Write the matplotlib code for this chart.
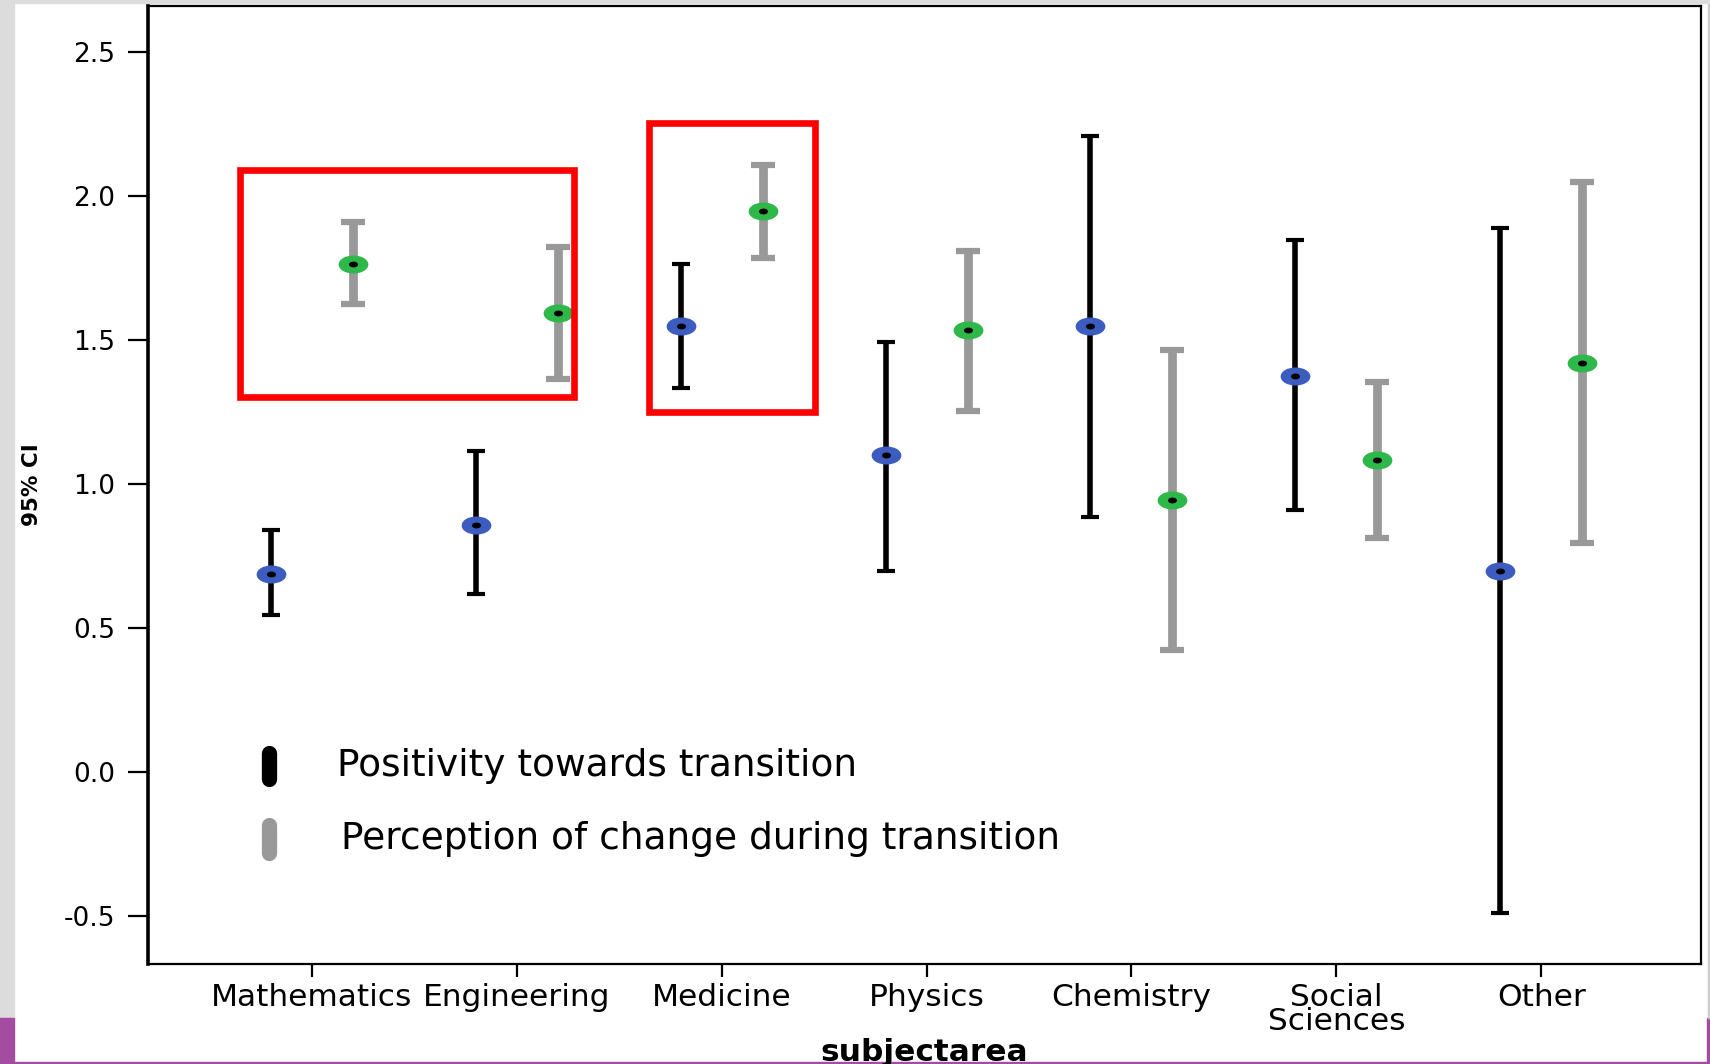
import matplotlib.pyplot as plt
from matplotlib.markers import MarkerStyle
from matplotlib.patches import Rectangle
from matplotlib.transforms import Affine2D

# subject areas and 95% CI values
subjects = ['Mathematics', 'Engineering', 'Medicine', 'Physics', 'Chemistry', 'Social\nSciences', 'Other']

pos_mean = [0.69, 0.86, 1.55, 1.10, 1.55, 1.375, 0.70]
pos_low = [0.545, 0.62, 1.335, 0.70, 0.885, 0.91, -0.49]
pos_high = [0.84, 1.115, 1.765, 1.495, 2.21, 1.85, 1.89]

chg_mean = [1.765, 1.595, 1.95, 1.535, 0.945, 1.085, 1.42]
chg_low = [1.625, 1.365, 1.785, 1.255, 0.425, 0.815, 0.795]
chg_high = [1.91, 1.825, 2.11, 1.81, 1.465, 1.355, 2.05]

series_labels = ['Positivity towards transition', 'Perception of change during transition']
yticks = [-0.5, 0.0, 0.5, 1.0, 1.5, 2.0, 2.5]

# highlighted regions (x0, x1, y0, y1) in data units
highlight_boxes = [(-0.35, 1.28, 1.303, 2.09), (1.645, 2.455, 1.25, 2.253)]

plt.rcParams['font.family'] = ['DejaVu Sans']

fig = plt.figure(figsize=(17.1, 10.64), dpi=100)
ax = fig.add_axes([148 / 1710, 100 / 1064, 1553 / 1710, 958 / 1064])

# page decoration around the chart
deco = [((0, 46 / 1064), 14 / 1710, 1, '#dcdcdc'),
        ((0, 0), 14 / 1710, 46 / 1064, '#a44ba2'),
        ((0, 0), 1, 2 / 1064, '#a44ba2'),
        ((1707 / 1710, 0), 3 / 1710, 46 / 1064, '#a44ba2'),
        ((1708 / 1710, 46 / 1064), 2 / 1710, 1, '#cccccc'),
        ((0, 1 - 3 / 1064), 1, 3 / 1064, '#dcdcdc')]
for xy, w, h, c in deco:
    fig.patches.append(Rectangle(xy, w, h, transform=fig.transFigure, color=c, zorder=-1))

x = range(len(subjects))
off = 0.2
xb = [i - off for i in x]
xg = [i + off for i in x]

ell = MarkerStyle('o', transform=Affine2D().scale(1.7, 1.0))

ax.errorbar(xb, pos_mean,
            yerr=[[m - l for m, l in zip(pos_mean, pos_low)], [h - m for m, h in zip(pos_mean, pos_high)]],
            fmt='none', ecolor='black', elinewidth=4, capsize=6.5, capthick=3, zorder=2)
ax.errorbar(xg, chg_mean,
            yerr=[[m - l for m, l in zip(chg_mean, chg_low)], [h - m for m, h in zip(chg_mean, chg_high)]],
            fmt='none', ecolor='#999999', elinewidth=6.3, capsize=8.5, capthick=4.5, zorder=2)
ax.plot(xb, pos_mean, linestyle='none', marker=ell, ms=12, mfc='#3c5cbf', mec='#3c5cbf', zorder=3)
ax.plot(xg, chg_mean, linestyle='none', marker=ell, ms=12, mfc='#2fb84a', mec='#2fb84a', zorder=3)
ax.plot(list(xb) + list(xg), pos_mean + chg_mean, linestyle='none', marker=ell, ms=3.2,
        mfc='black', mec='black', zorder=4)

for x0, x1, y0, y1 in highlight_boxes:
    ax.add_patch(Rectangle((x0, y0), x1 - x0, y1 - y0, fill=False, edgecolor='#ff0000',
                           linewidth=4.8, zorder=5, clip_on=False))

# hand-drawn style legend
for (lab, col, yy, half, tx) in [(series_labels[0], 'black', 0.2067, 0.0136, 0.1217),
                                 (series_labels[1], '#999999', 0.1305, 0.015, 0.124)]:
    ax.plot([0.078, 0.078], [yy - half, yy + half], transform=ax.transAxes, color=col,
            lw=11, solid_capstyle='round')
    ax.text(tx, yy, lab, transform=ax.transAxes, va='center', ha='left', fontsize=27)

ax.set_xlim(-0.8, 6.78)
ax.set_ylim(-0.666, 2.661)
ax.set_xticks(list(x))
ax.set_xticklabels(subjects, fontsize=22.5, linespacing=0.8)
ax.set_yticks(yticks)
ax.set_yticklabels([f'{v:.1f}' for v in yticks], fontsize=19)
ax.tick_params(axis='x', length=9.5, width=1.6, pad=4)
ax.tick_params(axis='y', length=14.5, width=1.6, pad=9)

for s in ax.spines.values():
    s.set_linewidth(1.6)
ax.spines['left'].set_linewidth(2.6)

ax.set_xlabel('subjectarea', fontsize=22.5, fontweight='bold')
ax.xaxis.set_label_coords(0.5, -0.0775)
ax.set_ylabel('95% CI', fontsize=15.5, fontweight='bold')
ax.yaxis.set_label_coords(-0.068, 0.5)

fig.savefig('out.png', dpi=100)
